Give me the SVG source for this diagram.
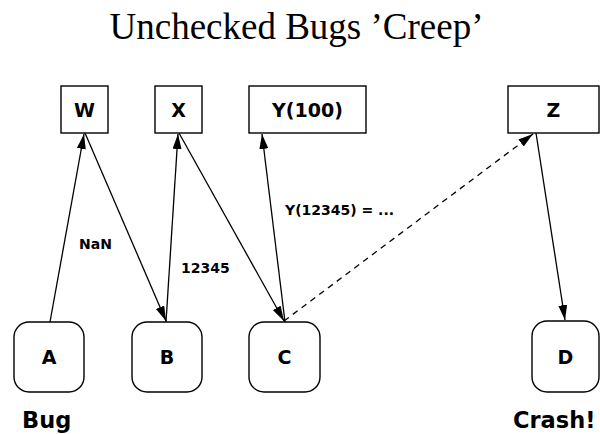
<svg xmlns="http://www.w3.org/2000/svg" width="600" height="434" viewBox="0 0 600 434">
  <style>
    .box { fill: #ffffff; stroke: #000000; stroke-width: 1.4; }
    .lbl { font-family: "DejaVu Sans", "Liberation Sans", sans-serif; font-weight: bold; font-size: 19px; fill: #000000; text-anchor: middle; }
    .edge-lbl { font-family: "DejaVu Sans", "Liberation Sans", sans-serif; font-weight: bold; font-size: 14px; fill: #000000; }
    .big { font-family: "DejaVu Sans", "Liberation Sans", sans-serif; font-weight: bold; font-size: 22.5px; fill: #000000; }
    .title { font-family: "Liberation Serif", "Times New Roman", serif; font-size: 37px; fill: #000000; text-anchor: middle; }
    .edge { stroke: #000000; stroke-width: 1.3; fill: none; marker-end: url(#arrow); }
    .dashed { stroke-dasharray: 6 5; }
  </style>
  <defs>
    <marker id="arrow" markerUnits="userSpaceOnUse" markerWidth="16" markerHeight="10" refX="15" refY="4.5" orient="auto">
      <path d="M0,0 L15,4.5 L0,9 z" fill="#000000"/>
    </marker>
  </defs>

  <rect width="600" height="434" fill="#ffffff"/>

  <text class="title" x="296.5" y="39">Unchecked Bugs ’Creep’</text>

  <!-- variables -->
  <g id="W">
    <rect class="box" x="61" y="86" width="47" height="47"/>
    <text class="lbl" x="84.5" y="116.5">W</text>
  </g>
  <g id="X">
    <rect class="box" x="155" y="86" width="47" height="47"/>
    <text class="lbl" x="178.5" y="116.5">X</text>
  </g>
  <g id="Y100">
    <rect class="box" x="249" y="86" width="117" height="47"/>
    <text class="lbl" x="307.5" y="116.5">Y(100)</text>
  </g>
  <g id="Z">
    <rect class="box" x="508" y="86" width="91" height="47"/>
    <text class="lbl" x="553.5" y="116.5">Z</text>
  </g>

  <!-- functions -->
  <g id="A">
    <rect class="box" x="14" y="322" width="70" height="70" rx="15" ry="15"/>
    <text class="lbl" x="49" y="363.5">A</text>
  </g>
  <g id="B">
    <rect class="box" x="132" y="322" width="70" height="70" rx="15" ry="15"/>
    <text class="lbl" x="167" y="363.5">B</text>
  </g>
  <g id="C">
    <rect class="box" x="249" y="322" width="71" height="70" rx="15" ry="15"/>
    <text class="lbl" x="284.5" y="363.5">C</text>
  </g>
  <g id="D">
    <rect class="box" x="532" y="321" width="67" height="71" rx="15" ry="15"/>
    <text class="lbl" x="565.5" y="363.5">D</text>
  </g>

  <!-- data flow -->
  <g id="connectors">
    <line class="edge" x1="50" y1="322" x2="84" y2="134"/>
    <line class="edge" x1="85" y1="133" x2="166" y2="321"/>
    <line class="edge" x1="166" y1="322" x2="178" y2="134"/>
    <line class="edge" x1="179" y1="133" x2="284" y2="321"/>
    <line class="edge" x1="285" y1="322" x2="262" y2="134"/>
    <line class="edge dashed" x1="284" y1="321" x2="533" y2="134"/>
    <line class="edge" x1="536" y1="133" x2="565" y2="320"/>
  </g>

  <text class="edge-lbl" x="79" y="249">NaN</text>
  <text class="edge-lbl" x="181" y="273">12345</text>
  <text class="edge-lbl" x="285" y="215">Y(12345) = ...</text>

  <text class="big" x="22" y="428">Bug</text>
  <text class="big" x="513" y="428">Crash!</text>
</svg>
